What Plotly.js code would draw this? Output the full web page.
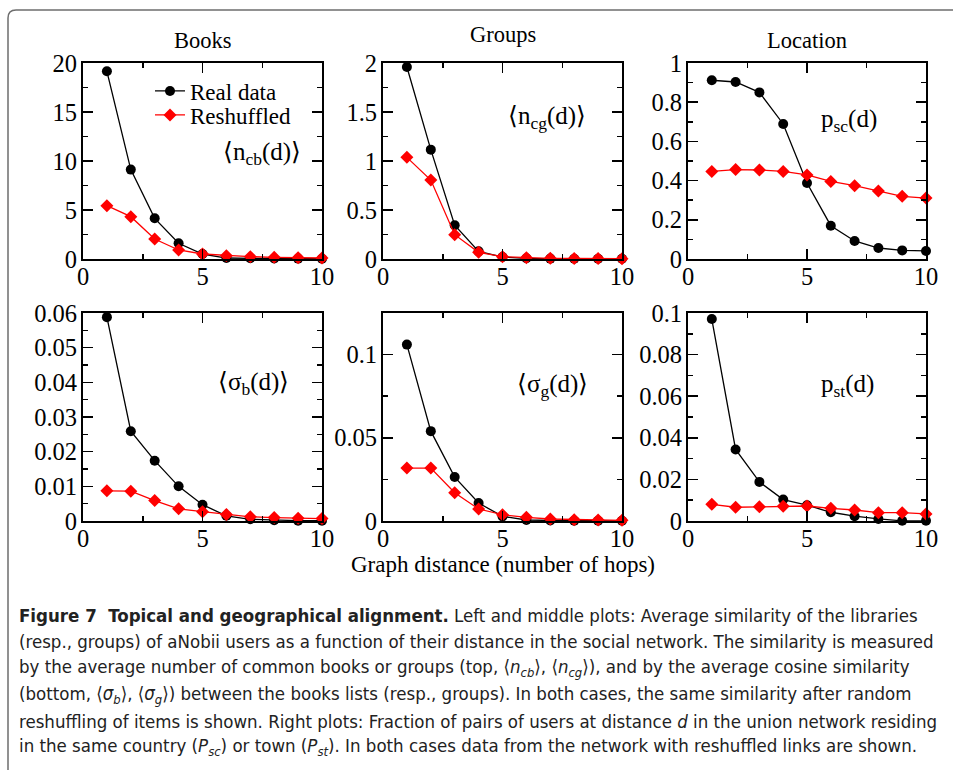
<!DOCTYPE html>
<html>
<head>
<meta charset="utf-8">
<script src="https://cdn.plot.ly/plotly-3.0.1.min.js"></script>
<style>html,body{margin:0;padding:0;background:#fff;}#chart{width:953px;height:770px;}</style>
</head>
<body>
<div id="chart"></div>
<script>
// ---- data ----
const hops = [1, 2, 3, 4, 5, 6, 7, 8, 9, 10];
const booksReal  = [19.15, 9.12, 4.15, 1.6, 0.51, 0.1, 0.07, 0.05, 0.04, 0.03];
const booksShuf  = [5.44, 4.32, 2.04, 0.92, 0.51, 0.34, 0.24, 0.17, 0.14, 0.1];
const groupsReal = [1.959, 1.116, 0.344, 0.078, 0.02, 0.007, 0.004, 0.003, 0.002, 0.002];
const groupsShuf = [1.037, 0.806, 0.248, 0.068, 0.024, 0.014, 0.007, 0.005, 0.004, 0.003];
const locReal    = [0.912, 0.903, 0.850, 0.689, 0.388, 0.170, 0.092, 0.056, 0.044, 0.041];
const locShuf    = [0.447, 0.456, 0.454, 0.447, 0.429, 0.396, 0.374, 0.347, 0.320, 0.311];
const sigbReal   = [0.0588, 0.0259, 0.0174, 0.0100, 0.0047, 0.0015, 0.0005, 0.0002, 0.0001, 0.0001];
const sigbShuf   = [0.0087, 0.0086, 0.0059, 0.0035, 0.0027, 0.0019, 0.0012, 0.0010, 0.0008, 0.0007];
const siggReal   = [0.106, 0.054, 0.0264, 0.0108, 0.0028, 0.0006, 0.0003, 0.0002, 0.0001, 0.0001];
const siggShuf   = [0.0318, 0.0318, 0.017, 0.0072, 0.0038, 0.0022, 0.0012, 0.0008, 0.0006, 0.0004];
const pstReal    = [0.0971, 0.0344, 0.0188, 0.0103, 0.0076, 0.0042, 0.0023, 0.001, 0.0001, 0.0001];
const pstShuf    = [0.008, 0.0066, 0.0068, 0.0071, 0.0072, 0.0061, 0.0053, 0.004, 0.004, 0.0034];
const seriesNames = ['Real data', 'Reshuffled'];
const panelTitles = ['Books', 'Groups', 'Location'];
const xTitle = 'Graph distance (number of hops)';
const panelLabels = [
  '⟨n<sub>cb</sub>(d)⟩', '⟨n<sub>cg</sub>(d)⟩', 'p<sub>sc</sub>(d)',
  '⟨σ<sub>b</sub>(d)⟩', '⟨σ<sub>g</sub>(d)⟩', 'p<sub>st</sub>(d)'
];
const captionLines = [
  '<b>Figure 7&nbsp; Topical and geographical alignment.</b> Left and middle plots: Average similarity of the libraries',
  '(resp., groups) of aNobii users as a function of their distance in the social network. The similarity is measured',
  'by the average number of common books or groups (top, ⟨<i>n<sub>cb</sub></i>⟩, ⟨<i>n<sub>cg</sub></i>⟩), and by the average cosine similarity',
  '(bottom, ⟨<i>σ<sub>b</sub></i>⟩, ⟨<i>σ<sub>g</sub></i>⟩) between the books lists (resp., groups). In both cases, the same similarity after random',
  'reshuffling of items is shown. Right plots: Fraction of pairs of users at distance <i>d</i> in the union network residing',
  'in the same country (<i>P<sub>sc</sub></i>) or town (<i>P<sub>st</sub></i>). In both cases data from the network with reshuffled links are shown.'
];

// ---- layout helpers ----
const W = 953, H = 770;
const px = v => v / W;
const py = v => 1 - v / H;
const SERIF = 'Liberation Serif, Times New Roman, serif';

const panels = [
  {real: booksReal,  shuf: booksShuf,  x: [83, 322],  y: [63, 259],  yr: [0, 20],    dt: 5,    mt: 2.5},
  {real: groupsReal, shuf: groupsShuf, x: [383, 622], y: [63, 259],  yr: [0, 2],     dt: 0.5,  mt: 0.25},
  {real: locReal,    shuf: locShuf,    x: [688, 926], y: [63, 259],  yr: [0, 1],     dt: 0.2,  mt: 0.1},
  {real: sigbReal,   shuf: sigbShuf,   x: [83, 322],  y: [313, 521], yr: [0, 0.06],  dt: 0.01, mt: 0.005},
  {real: siggReal,   shuf: siggShuf,   x: [383, 622], y: [313, 521], yr: [0, 0.125], dt: 0.05, mt: 0.025},
  {real: pstReal,    shuf: pstShuf,    x: [688, 926], y: [313, 521], yr: [0, 0.1],   dt: 0.02, mt: 0.01}
];
const labelPos = [[262, 153], [547, 117], [849, 120], [253, 383], [552, 385], [847, 385]];

const traces = [];
const legendFont = {family: SERIF, size: 23, color: '#000'};
const layout = {
  width: W, height: H,
  margin: {l: 0, r: 0, t: 0, b: 0},
  paper_bgcolor: '#fff', plot_bgcolor: '#fff',
  font: {family: SERIF, color: '#000', size: 22},
  showlegend: true,
  legend: {x: px(150), y: py(91), xanchor: 'left', yanchor: 'middle', bgcolor: 'rgba(0,0,0,0)',
           font: legendFont, itemwidth: 30},
  legend2: {x: px(150), y: py(115), xanchor: 'left', yanchor: 'middle', bgcolor: 'rgba(0,0,0,0)',
           font: legendFont, itemwidth: 30},
  annotations: [], shapes: []
};

panels.forEach((p, i) => {
  const n = i + 1;
  const xa = n === 1 ? 'x' : 'x' + n;
  const ya = n === 1 ? 'y' : 'y' + n;
  traces.push({x: hops, y: p.real, xaxis: xa, yaxis: ya, name: seriesNames[0], type: 'scatter', mode: 'lines+markers',
    line: {color: '#000', width: 1.3}, marker: {symbol: 'circle', size: 10, color: '#000'},
    cliponaxis: false, showlegend: i === 0, legend: 'legend'});
  traces.push({x: hops, y: p.shuf, xaxis: xa, yaxis: ya, name: seriesNames[1], type: 'scatter', mode: 'lines+markers',
    line: {color: '#ff0000', width: 1.3}, marker: {symbol: 'diamond', size: 10, color: '#ff0000'},
    cliponaxis: false, showlegend: i === 0, legend: 'legend2'});
  const common = {showline: true, linecolor: '#000', linewidth: 2, mirror: 'allticks', ticks: 'inside',
    ticklen: 10, tickwidth: 1.5, tickcolor: '#000', showgrid: false, zeroline: false, fixedrange: true,
    tickfont: {family: SERIF, size: 24.5, color: '#000'}};
  layout['xaxis' + (n === 1 ? '' : n)] = Object.assign({}, common, {
    domain: [px(p.x[0]), px(p.x[1])], anchor: ya, range: [0, 10], dtick: 5, tick0: 0, ticklabelstandoff: -5,
    minor: {ticks: 'inside', dtick: 2.5, ticklen: 5, tickwidth: 1.5, tickcolor: '#000', showgrid: false}
  });
  layout['yaxis' + (n === 1 ? '' : n)] = Object.assign({}, common, {
    domain: [py(p.y[1]), py(p.y[0])], anchor: xa, range: p.yr, dtick: p.dt, tick0: 0, ticklabelstandoff: -1,
    minor: {ticks: 'inside', dtick: p.mt, ticklen: 5, tickwidth: 1.5, tickcolor: '#000', showgrid: false}
  });
  layout.annotations.push({text: panelLabels[i], xref: 'paper', yref: 'paper', x: px(labelPos[i][0]), y: py(labelPos[i][1]),
    xanchor: 'center', yanchor: 'middle', showarrow: false, font: {family: SERIF, size: 25, color: '#000'}});
});

const titlePos = [[203, 41], [503, 35], [807, 40]];
panelTitles.forEach((t, i) => {
  layout.annotations.push({text: t, xref: 'paper', yref: 'paper', x: px(titlePos[i][0]), y: py(titlePos[i][1]),
    xanchor: 'center', yanchor: 'middle', showarrow: false, font: {family: SERIF, size: 22.5, color: '#000'}});
});
layout.annotations.push({text: xTitle, xref: 'paper', yref: 'paper', x: px(503), y: py(564),
  xanchor: 'center', yanchor: 'middle', showarrow: false, font: {family: SERIF, size: 23, color: '#000'}});

const capY = [615, 641, 668, 695, 721, 747];
captionLines.forEach((t, i) => {
  layout.annotations.push({text: t, xref: 'paper', yref: 'paper', x: px(17), y: py(capY[i]),
    xanchor: 'left', yanchor: 'middle', align: 'left', showarrow: false,
    font: {family: 'DejaVu Sans Condensed, sans-serif', size: 18.5, color: '#222'}});
});

// figure frame (rounded top-left corner)
layout.shapes.push({type: 'path', xref: 'paper', yref: 'paper',
  path: `M ${px(8)} ${py(770)} L ${px(8)} ${py(18)} Q ${px(8)} ${py(10)} ${px(16)} ${py(10)} L ${px(953)} ${py(10)}`,
  line: {color: '#6e6e6e', width: 1.5}});

Plotly.newPlot('chart', traces, layout, {displayModeBar: false, staticPlot: true});
</script>
</body>
</html>
